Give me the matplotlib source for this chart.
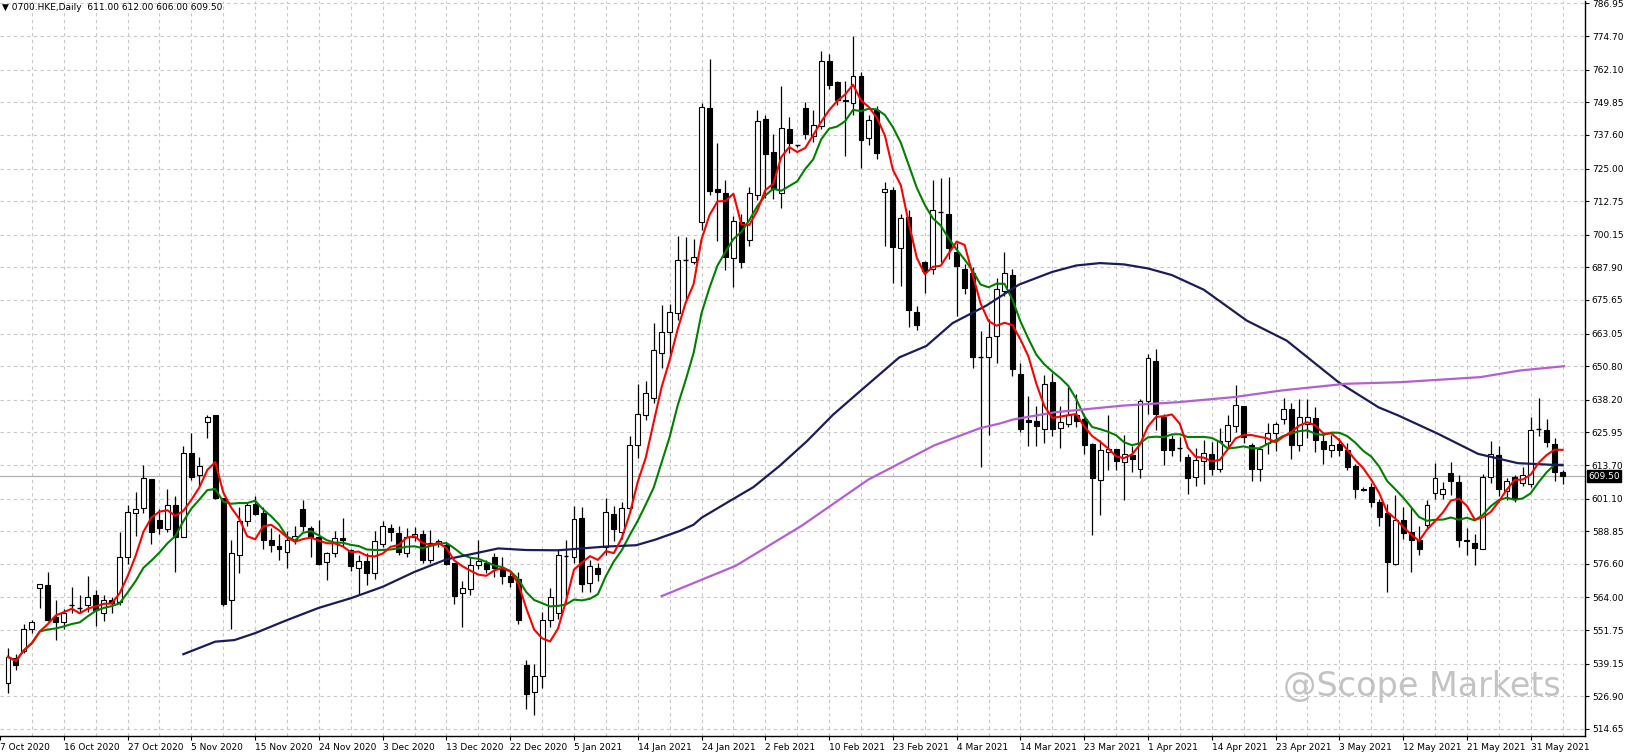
import matplotlib
matplotlib.use("Agg")
import matplotlib.pyplot as plt
import numpy as np
import pandas as pd

plt.rcParams['font.family'] = ['DejaVu Sans']

opens = [531.7,541.1,544.0,552.3,567.7,568.6,556.5,554.8,561.1,560.1,561.1,564.8,558.3,563.2,562.3,579.0,595.8,597.7,608.3,593.2,
589.8,598.6,586.7,618.3,609.8,630.0,632.3,601.4,563.0,579.8,592.7,598.9,595.8,585.4,583.4,581.1,585.4,597.3,590.2,586.7,
577.3,580.8,586.4,581.7,575.2,577.8,573.2,584.2,590.2,588.3,580.7,586.7,588.0,578.2,584.5,583.6,576.8,565.7,567.3,576.2,
576.8,579.1,574.5,571.9,571.0,538.7,528.6,534.5,555.5,558.1,579.5,579.1,594.0,569.3,575.2,582.8,595.5,588.6,597.5,621.2,
632.4,638.9,655.6,663.5,670.9,690.6,690.0,705.0,747.6,717.2,715.8,691.4,705.0,698.3,715.0,743.7,731.3,715.8,739.7,733.7,
747.6,737.3,741.0,765.2,757.6,750.9,749.5,759.9,736.6,747.0,716.1,716.8,695.0,706.9,671.0,690.0,687.1,708.6,707.9,693.5,
687.4,685.7,654.1,654.1,662.0,679.2,685.0,647.9,630.7,630.4,627.3,644.8,627.7,629.2,632.3,631.1,621.7,608.2,618.6,619.8,
614.8,617.3,612.3,637.7,652.9,631.7,623.6,620.0,616.7,609.1,615.4,618.0,612.3,622.9,628.2,636.0,621.4,612.3,621.9,625.7,
630.8,634.8,621.4,629.2,631.4,622.9,619.4,621.7,619.2,613.3,604.8,605.5,599.8,595.7,576.5,593.2,588.6,585.5,591.1,603.2,
602.9,610.8,607.3,585.7,584.5,582.3,609.2,617.3,604.1,609.2,606.8,606.5,627.1,626.9,621.7,611.0]
closes = [541.7,538.6,552.3,554.8,568.9,555.5,554.8,558.3,561.4,560.2,564.2,559.2,563.0,562.0,579.2,596.1,597.3,608.9,588.6,590.1,
598.8,586.7,618.3,609.2,613.3,631.7,601.4,561.7,580.5,592.7,598.8,595.4,585.7,583.8,582.3,585.7,587.0,590.7,586.7,576.7,
580.7,586.4,585.4,575.8,577.7,573.0,585.1,590.8,588.4,581.1,586.7,588.0,578.2,584.4,585.2,576.7,564.7,567.6,576.2,577.6,
574.5,574.9,571.9,569.9,555.5,527.9,534.5,555.5,564.0,579.8,579.6,593.3,568.9,575.9,572.8,595.9,589.7,597.5,621.2,632.8,
640.9,656.9,663.5,671.1,690.6,690.8,691.7,748.0,716.5,716.2,691.7,705.4,690.0,715.8,743.0,730.4,717.2,740.2,734.4,733.7,
738.0,741.3,765.2,756.2,750.9,750.2,759.9,735.8,743.3,730.8,717.2,695.7,706.4,672.0,666.3,686.4,709.3,708.6,695.0,688.5,
680.2,654.1,654.2,661.6,679.9,685.7,649.8,627.3,629.8,628.2,644.2,627.3,630.0,632.3,630.4,621.1,609.0,619.4,619.8,615.4,
617.9,616.1,637.9,653.9,632.9,619.4,619.4,620.1,609.0,615.7,618.2,612.3,622.9,628.9,636.4,624.2,612.3,619.8,625.7,629.2,
634.8,621.4,631.7,631.7,623.2,619.8,621.4,619.2,613.0,604.8,604.2,599.8,594.2,577.3,593.0,588.2,585.5,582.0,598.6,608.8,
604.8,607.7,585.5,585.2,582.7,609.2,617.9,604.8,607.7,601.1,609.8,626.9,627.2,622.3,611.1,609.5]
highs = [544.9,542.7,554.0,555.7,569.2,573.5,563.0,559.5,568.0,564.8,572.2,566.7,565.0,564.2,588.4,598.6,603.4,613.6,608.5,597.3,
604.6,602.2,621.0,625.9,616.8,632.3,632.3,601.4,585.4,598.0,600.0,602.0,598.0,590.0,588.0,589.0,591.0,600.5,591.0,593.0,
581.0,589.0,594.0,582.0,580.0,580.7,589.0,592.8,591.5,591.0,590.0,590.5,589.5,589.5,586.0,584.5,577.0,570.2,579.0,585.4,
578.0,580.5,579.0,573.0,573.5,540.5,539.0,558.6,567.6,582.0,585.7,598.5,597.8,578.0,577.0,601.4,598.3,600.0,624.5,644.0,
645.3,667.1,673.9,674.2,699.6,699.3,698.7,749.5,766.0,734.4,720.6,707.0,708.0,718.0,747.0,745.0,738.0,755.9,744.5,734.0,
749.8,746.8,769.0,768.0,758.0,758.0,774.8,761.4,745.0,748.5,720.0,718.0,708.0,709.3,673.5,690.2,720.6,721.5,721.8,697.0,
689.0,688.0,664.0,668.5,684.0,693.5,687.4,652.0,639.5,636.0,647.5,648.2,636.0,643.0,640.5,633.0,622.0,623.0,632.5,619.9,
625.0,621.0,638.5,655.4,657.2,633.0,625.0,624.2,618.0,620.0,623.0,622.5,627.5,632.5,643.6,636.0,622.0,621.0,629.5,630.0,
639.0,637.0,638.5,638.5,635.5,625.0,625.0,624.0,622.0,614.0,605.5,607.0,601.0,599.0,602.3,598.0,598.0,591.0,600.5,614.5,
607.5,615.0,610.0,590.0,587.7,610.5,622.6,621.0,609.0,610.0,613.0,631.6,638.9,631.0,624.0,612.0]
lows = [528.0,536.7,543.0,550.7,560.1,555.0,548.0,552.3,558.0,558.2,558.5,553.3,555.0,558.3,561.0,576.7,587.1,595.6,584.2,587.7,
588.5,573.5,586.7,608.0,606.0,623.9,601.0,560.8,552.0,573.0,591.0,594.8,582.0,581.0,578.0,575.0,584.0,589.0,579.0,576.0,
570.5,579.0,583.0,574.0,565.0,568.5,571.0,583.0,585.0,580.0,579.0,585.0,577.0,577.0,583.0,576.0,561.5,552.8,565.0,574.5,
573.0,571.8,569.0,568.0,554.0,522.0,520.0,530.0,553.0,556.0,562.0,577.0,566.0,566.0,570.0,580.0,585.0,586.0,596.0,616.5,
630.6,637.0,650.2,655.0,668.0,675.0,689.0,702.0,715.0,697.8,686.8,680.6,687.5,696.0,713.0,714.0,713.6,710.0,731.0,733.2,
736.0,735.0,740.0,755.0,749.0,729.8,745.0,725.3,734.0,728.5,696.0,682.2,681.0,665.5,664.5,678.4,685.4,690.0,691.0,669.5,
678.0,650.0,612.8,625.0,652.0,677.0,647.3,626.0,620.8,621.0,621.8,624.5,620.0,628.0,628.0,618.0,587.5,595.0,612.0,612.0,
600.5,611.0,609.0,633.0,627.0,613.6,617.0,615.4,602.8,606.0,606.5,610.0,611.0,620.0,626.0,622.0,607.6,607.6,618.0,619.0,
629.0,616.0,619.0,624.0,618.5,614.0,616.6,617.0,612.0,601.4,604.0,598.0,591.0,566.0,576.0,586.0,573.6,580.0,590.0,601.0,
601.0,602.5,583.0,580.0,576.0,582.0,607.0,602.0,600.5,600.0,606.0,605.5,624.6,620.5,607.6,606.5]

navy_bar = [22,26,28.4,31,35,39,43,47,51,55,59,61.5,65,69,75,78.8,81.2,84.3,86,87,90.2,93.5,96.8,100.2,103.5,106.8,111.8,
            115.2,118.5,122.7,126.8,131,134,137,140,143,146,150,155.4,160.4,166.9,171.9,174.4,179.4,184.4,189.4,195]
navy_val = [542.7,547.4,548,550.6,555.5,560.1,563.7,568,573.6,578.3,580.8,582.4,581.8,581.7,583.1,583.6,585.7,589,591.3,593.9,
            599.6,605.4,613.4,622.6,632.6,641.2,654.1,658.4,667,673.5,681.4,686.2,688.6,689.5,689.0,687.5,685.0,679.5,667.9,
            660.4,644.8,635.4,632.3,625.4,617.9,614.4,613.6]
purple_bar = [82,91.3,99.6,107.9,116.2,122,124.3,126.1,131.3,139.8,146.8,153.8,159.8,167.8,174.7,184.7,189.7,195.2]
purple_val = [564.5,575.9,591,608.2,621.1,627.6,629.2,630.8,633.5,636,637.3,639.2,641.7,644.2,644.8,646.7,649.2,650.8]

ytick_vals = [786.95,774.70,762.10,749.85,737.60,725.00,712.75,700.15,687.90,675.65,663.05,650.80,638.20,625.95,
              613.70,601.10,588.85,576.60,564.00,551.75,539.15,526.90,514.65]
xtick_labels = ["7 Oct 2020","16 Oct 2020","27 Oct 2020","5 Nov 2020","15 Nov 2020","24 Nov 2020","3 Dec 2020",
                "13 Dec 2020","22 Dec 2020","5 Jan 2021","14 Jan 2021","24 Jan 2021","2 Feb 2021","10 Feb 2021",
                "23 Feb 2021","4 Mar 2021","14 Mar 2021","23 Mar 2021","1 Apr 2021","14 Apr 2021","23 Apr 2021",
                "3 May 2021","12 May 2021","21 May 2021","31 May 2021"]

fig = plt.figure(figsize=(16.28, 7.54), dpi=100)
ax = fig.add_axes([0, 0.0239, 0.9735, 0.9745])
n = len(closes)
x = np.arange(n)
ax.set_xlim(-0.66, 197.8)
ax.set_ylim(512.0, 787.8)

for v in ytick_vals:
    ax.axhline(v, color='#c8c8c8', lw=0.8, ls=(0, (3, 3)), zorder=0)
for b in range(3, 200, 4):
    ax.axvline(b, color='#c8c8c8', lw=0.8, ls=(0, (3, 3)), zorder=0)

ax.axhline(closes[-1], color='#b0b0b0', lw=0.9, zorder=1)

w = 0.62
for i in range(n):
    o, c, h, l = opens[i], closes[i], highs[i], lows[i]
    ax.vlines(i, l, h, color='black', lw=0.9, zorder=2)
    bot, top = min(o, c), max(o, c)
    if top - bot < 0.4:
        ax.hlines(o, i - w / 2, i + w / 2, color='black', lw=1.0, zorder=3)
    else:
        fc = 'white' if c > o else 'black'
        ax.add_patch(plt.Rectangle((i - w / 2, bot), w, top - bot, facecolor=fc, edgecolor='black', lw=0.8, zorder=3))

cs = pd.Series(closes)
red = cs.rolling(5, min_periods=1).mean()
green = cs.rolling(10, min_periods=1).mean()
ax.plot(x, green, color='#008000', lw=1.5, zorder=4)
ax.plot(x, red, color='#ff0000', lw=1.5, zorder=5)
ax.plot(navy_bar, navy_val, color='#1c1c5c', lw=1.6, zorder=4)
ax.plot(purple_bar, purple_val, color='#b45fd6', lw=1.6, zorder=4)

ax.yaxis.tick_right()
ax.set_yticks(ytick_vals)
ax.set_yticklabels([f"{v:.2f}" for v in ytick_vals], fontsize=6.5)
ax.tick_params(axis='y', direction='out', length=3, pad=2)
ticks = [-1 + 8 * k for k in range(len(xtick_labels))]
ax.set_xticks(ticks)
ax.set_xticklabels(xtick_labels, fontsize=6.5)
for lab in ax.get_xticklabels():
    lab.set_horizontalalignment('left')
ax.tick_params(axis='x', direction='out', length=3, pad=2)
for s in ['top', 'left']:
    ax.spines[s].set_visible(False)
ax.spines['bottom'].set_linewidth(1)
ax.spines['right'].set_linewidth(1)

ax.text(1.002, (closes[-1] - 512.0) / (787.8 - 512.0), f"{closes[-1]:.2f}", transform=ax.transAxes,
        fontsize=6.5, color='white', va='center', ha='left',
        bbox=dict(boxstyle='square,pad=0.15', fc='black', ec='black'))
ax.text(0.001, 0.997, "\u25bc 0700.HKE,Daily  611.00 612.00 606.00 609.50", transform=ax.transAxes,
        fontsize=6.5, va='top', ha='left')
ax.text(0.985, 0.045, "@Scope Markets", transform=ax.transAxes, fontsize=24, color='#b4b4b4',
        alpha=0.8, ha='right', va='bottom')

fig.savefig("out.png", dpi=100)
